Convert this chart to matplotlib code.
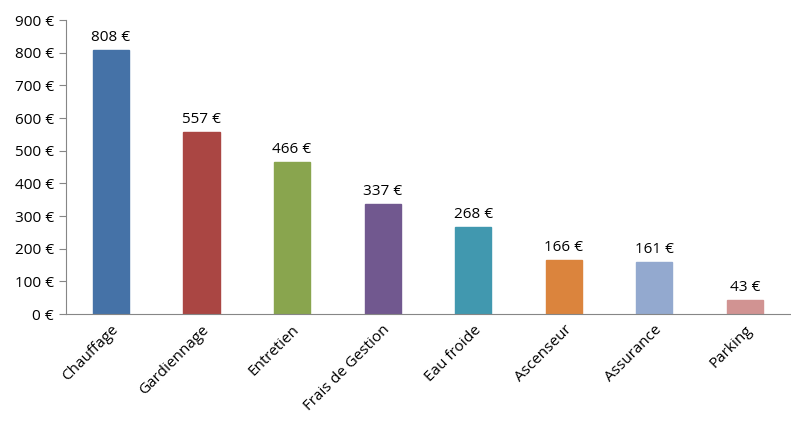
import matplotlib
matplotlib.use("Agg")
import matplotlib.pyplot as plt

categories = ["Chauffage", "Gardiennage", "Entretien", "Frais de Gestion", "Eau froide", "Ascenseur", "Assurance", "Parking"]
values = [808, 557, 466, 337, 268, 166, 161, 43]
colors = ["#4572A7", "#AA4643", "#89A54E", "#71588F", "#4198AF", "#DB843D", "#93A9CF", "#D19392"]
yticks = list(range(0, 1000, 100))

plt.rcParams["font.family"] = "Open Sans"
fig = plt.figure(figsize=(7.91, 4.45), dpi=100)
ax = fig.add_axes([0.083, 0.294, 0.916, 0.661])
x = range(len(categories))
ax.bar(x, values, width=0.4, color=colors, edgecolor=colors)
for i, v in zip(x, values):
    ax.text(i, v + 15, f"{v} €", ha="center", va="bottom", fontsize=11)
ax.set_xlim(-0.5, len(categories) - 0.5)
ax.set_ylim(0, 900)
ax.set_yticks(yticks)
ax.set_yticklabels([f"{t} €" for t in yticks], fontsize=11)
ax.set_xticks(list(x))
ax.set_xticklabels(categories, rotation=45, ha="right", rotation_mode="anchor", fontsize=11)
ax.tick_params(axis="x", length=0, pad=6)
ax.tick_params(axis="y", direction="out", length=5, color="#868686")
for s in ["top", "right"]:
    ax.spines[s].set_visible(False)
for s in ["left", "bottom"]:
    ax.spines[s].set_color("#868686")
fig.savefig("out.png", dpi=100)
